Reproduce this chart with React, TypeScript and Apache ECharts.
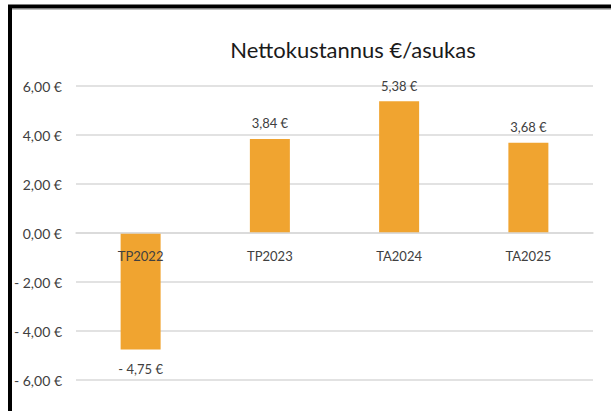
import React, { useEffect, useRef } from "react";
import * as echarts from "echarts";

const categories = ["TP2022", "TP2023", "TA2024", "TA2025"];
const values = [-4.75, 3.84, 5.38, 3.68];
const yTicks = [-6, -4, -2, 0, 2, 4, 6];
const titleText = "Nettokustannus €/asukas";

const FONT = "Lato, 'Open Sans', sans-serif";
const TEXT = "#404040";

function euro(v: number): string {
  const s = Math.abs(v).toFixed(2).replace(".", ",") + " €";
  return v < 0 ? "- " + s : s;
}

export default function App() {
  const ref = useRef<HTMLDivElement>(null);
  useEffect(() => {
    if (!ref.current) return;
    const chart = echarts.init(ref.current, null, { renderer: "svg" });
    chart.setOption({
      animation: false,
      backgroundColor: "#ffffff",
      title: {
        text: titleText,
        left: 348,
        top: 33,
        textAlign: "center",
        textStyle: { fontFamily: FONT, fontSize: 22, fontWeight: "normal", color: "#1a1a1a" },
      },
      grid: { left: 76, right: 18, top: 86, bottom: 31, containLabel: false },
      xAxis: {
        type: "category",
        data: categories,
        offset: -147,
        axisTick: { show: false },
        axisLine: { onZero: false, lineStyle: { color: "#d9d9d9", width: 1.5 } },
        axisLabel: { margin: 16, fontFamily: FONT, fontSize: 13, color: TEXT },
        z: 5,
      },
      yAxis: {
        type: "value",
        min: yTicks[0],
        max: yTicks[yTicks.length - 1],
        interval: 2,
        axisLine: { show: false },
        axisTick: { show: false },
        splitLine: { lineStyle: { color: "#d9d9d9", width: 1.5 } },
        axisLabel: {
          margin: 14,
          fontFamily: FONT,
          fontSize: 14,
          color: TEXT,
          formatter: (v: number) => euro(v),
        },
      },
      series: [
        {
          type: "bar",
          barWidth: 40,
          data: values.map((v) => ({
            value: v,
            label: { position: v < 0 ? "bottom" : "top", distance: v < 0 ? 13 : 9 },
          })),
          itemStyle: { color: "#F0A430" },
          label: {
            show: true,
            fontFamily: FONT,
            fontSize: 13,
            color: TEXT,
            formatter: (p: any) => euro(p.value),
          },
          z: 3,
        },
      ],
      graphic: [
        {
          type: "polyline",
          shape: { points: [[10, 411], [10, 6.5], [611, 6.5]] },
          style: { stroke: "#000000", lineWidth: 4, fill: "none" },
          z: 100,
        },
        {
          type: "line",
          shape: { x1: 12, y1: 9.5, x2: 611, y2: 9.5 },
          style: { stroke: "#bfbfbf", lineWidth: 1 },
          z: 100,
        },
      ],
    });
    return () => chart.dispose();
  }, []);
  return (
    <div
      ref={ref}
      style={{ position: "absolute", left: 0, top: 0, width: 611, height: 411 }}
    />
  );
}
